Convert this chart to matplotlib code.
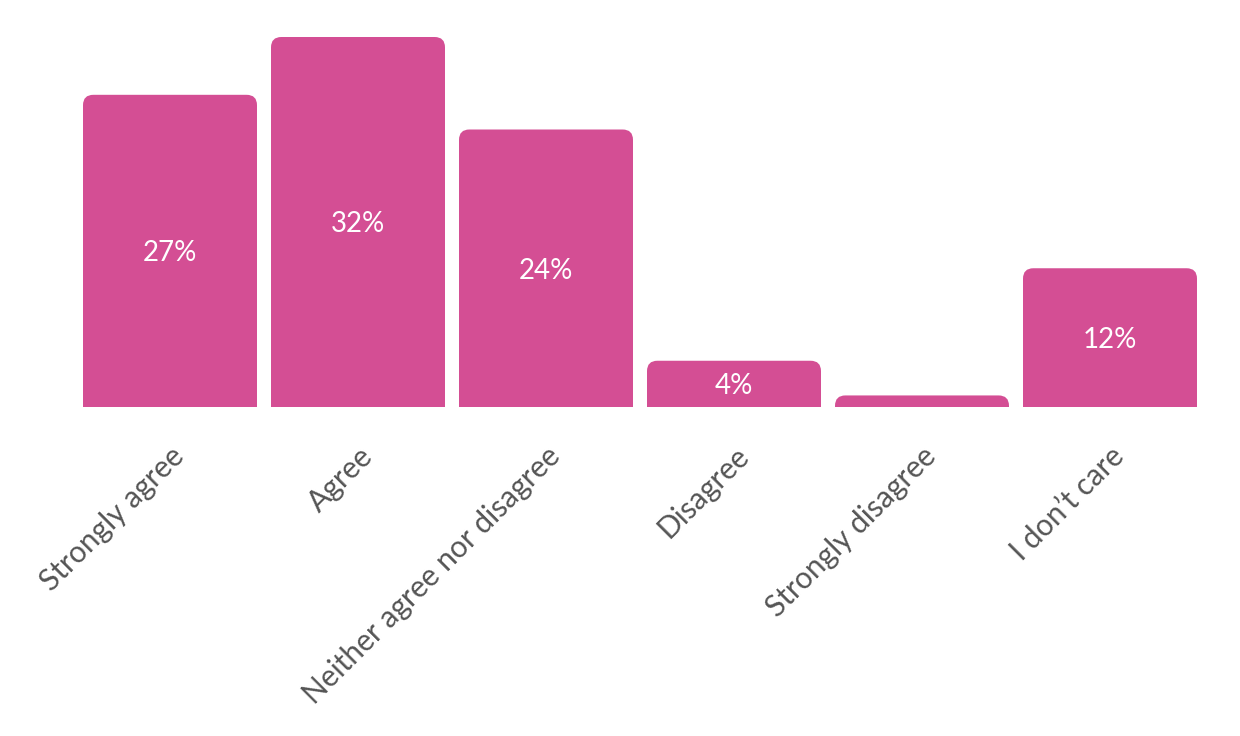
import matplotlib.pyplot as plt
from matplotlib.patches import FancyBboxPatch

categories = ["Strongly agree", "Agree", "Neither agree nor disagree",
              "Disagree", "Strongly disagree", "I don\u2019t care"]
values = [27, 32, 24, 4, 1, 12]
labels = ["27%", "32%", "24%", "4%", "", "12%"]

pink = "#d44e94"
grey = "#555555"
plt.rcParams['font.family'] = ['Lato', 'DejaVu Sans']

fig = plt.figure(figsize=(12.4, 7.36), dpi=100)
# baseline at 407px from top, ~11.56px per percent
ppu = 11.5625
ymax = 33
ax = fig.add_axes([76/1240, (736-407)/736, 1128/1240, ymax*ppu/736])

width = 174/188
for i, v in enumerate(values):
    # bottom starts below zero so rounded bottom corners get clipped away
    box = FancyBboxPatch((i - width/2, -2), width, v + 2,
                         boxstyle="round,pad=0,rounding_size=0.055",
                         mutation_aspect=188/ppu,
                         facecolor=pink, edgecolor="none")
    ax.add_patch(box)
    if labels[i]:
        ax.text(i, v/2 - 0.2, labels[i], ha="center", va="center", color="white",
                fontsize=20)

ax.set_xlim(-0.5, 5.5)
ax.set_ylim(0, ymax)
ax.set_xticks(range(len(categories)))
ax.set_xticklabels(categories, rotation=45, ha="right", rotation_mode="anchor",
                   fontsize=21.5, color=grey)
ax.tick_params(axis="x", length=0, pad=25)
ax.set_yticks([])
for s in ax.spines.values():
    s.set_visible(False)

fig.savefig("out.png", dpi=100)
